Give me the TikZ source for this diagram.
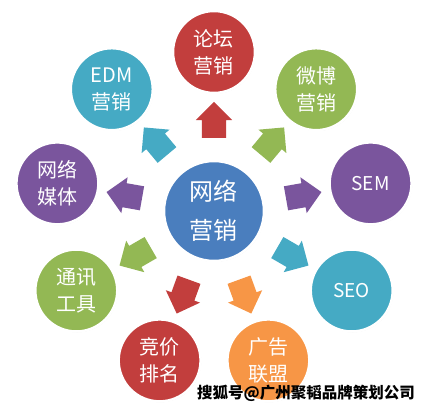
\documentclass[tikz,border=0pt]{standalone}
\usepackage{fontspec}
\setmainfont{Noto Sans CJK SC}
\usetikzlibrary{shapes.arrows,shadows}
\definecolor{lanse}{HTML}{4A7EBE}
\definecolor{hongse}{HTML}{C23E3D}
\definecolor{lvse}{HTML}{93B854}
\definecolor{zise}{HTML}{7A559D}
\definecolor{qingse}{HTML}{45AAC4}
\definecolor{chengse}{HTML}{F79646}

\begin{document}
\begin{tikzpicture}[x=1pt,y=1pt,
	quan/.style={circle,draw=white,line width=2.5pt,minimum size=82pt,inner sep=0pt,text=white,align=center,
		font=\fontsize{20}{27}\selectfont,drop shadow={opacity=0.25,shadow xshift=0.6pt,shadow yshift=-0.8pt}},
	jiantou/.style={single arrow,minimum height=36pt,inner xsep=0pt,inner ysep=12pt,single arrow head extend=6pt}]
		\useasboundingbox (-214,-201) rectangle (214,211);
		\node[quan,fill=lanse,minimum size=100pt,font=\fontsize{24}{39}\selectfont] (wangluo) at (0,0) {网络\\营销};
		\node[quan,fill=hongse] (luntan) at (90:159) {论坛\\营销};
		\node[quan,fill=lvse] (weibo) at (50:159) {微博\\营销};
		\node[quan,fill=zise,font=\fontsize{19}{24}\selectfont] (sem) at (10:159) {SEM};
		\node[quan,fill=qingse,font=\fontsize{19}{24}\selectfont] (seo) at (-30:159) {SEO};
		\node[quan,fill=chengse] (guanggao) at (-70:159) {广告\\联盟};
		\node[quan,fill=hongse] (jingjia) at (-110:159) {竞价\\排名};
		\node[quan,fill=lvse] (tongxun) at (-150:159) {通讯\\工具};
		\node[quan,fill=zise] (meiti) at (170:159) {网络\\媒体};
		\node[quan,fill=qingse] (edm) at (130:159) {EDM\\营销};
		\node[jiantou,fill=hongse,rotate=90] (j1) at (90:85) {};
		\node[jiantou,fill=lvse,rotate=50] (j2) at (50:85) {};
		\node[jiantou,fill=zise,rotate=10] (j3) at (10:85) {};
		\node[jiantou,fill=qingse,rotate=-30] (j4) at (-30:85) {};
		\node[jiantou,fill=chengse,rotate=-70] (j5) at (-70:85) {};
		\node[jiantou,fill=hongse,rotate=-110] (j6) at (-110:85) {};
		\node[jiantou,fill=lvse,rotate=-150] (j7) at (-150:85) {};
		\node[jiantou,fill=zise,rotate=170] (j8) at (170:85) {};
		\node[jiantou,fill=qingse,rotate=130] (j9) at (130:85) {};
		\node[font=\bfseries\fontsize{15.5}{16}\selectfont] (shuiyin) at (92,-182) {搜狐号@广州聚韬品牌策划公司};
\end{tikzpicture}
\end{document}
